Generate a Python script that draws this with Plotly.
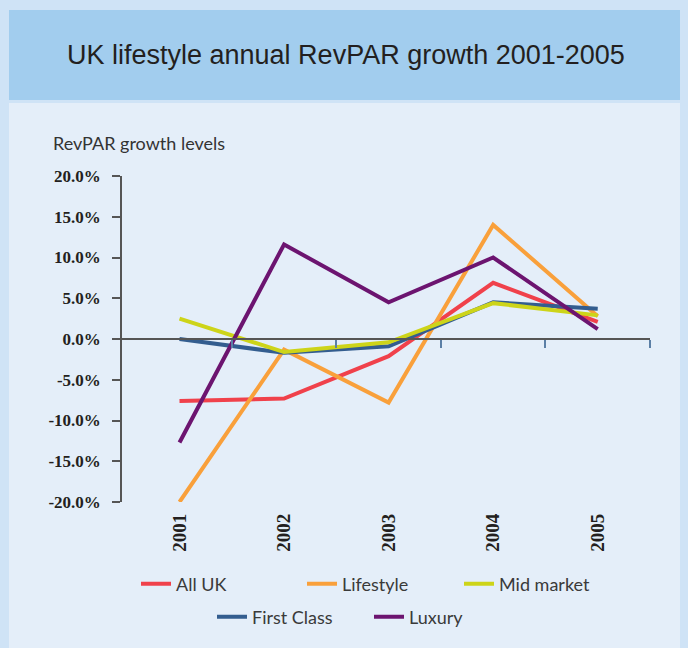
import plotly.graph_objects as go

years = ["2001", "2002", "2003", "2004", "2005"]
series_names = ["All UK", "Lifestyle", "First Class", "Mid market", "Luxury"]
all_uk = [-7.6, -7.3, -2.1, 6.9, 2.1]
lifestyle = [-20.0, -1.3, -7.8, 14.0, 2.8]
first_class = [0.0, -1.7, -0.9, 4.5, 3.7]
mid_market = [2.5, -1.6, -0.4, 4.4, 2.9]
luxury = [-12.7, 11.6, 4.5, 10.0, 1.2]
y_tick_values = [-20, -15, -10, -5, 0, 5, 10, 15, 20]
y_tick_labels = ["-20.0%", "-15.0%", "-10.0%", "-5.0%", "0.0%", "5.0%", "10.0%", "15.0%", "20.0%"]
title_text = "UK lifestyle annual RevPAR growth 2001-2005"
y_title_text = "RevPAR growth levels"

colors = {"All UK": "#f0414b", "Lifestyle": "#f9a03b", "First Class": "#335d8f",
          "Mid market": "#cdd419", "Luxury": "#6c1470"}
values = {"All UK": all_uk, "Lifestyle": lifestyle, "First Class": first_class,
          "Mid market": mid_market, "Luxury": luxury}

W, H = 688, 648
L, R, T, B = 122, 650, 176, 502


def px(x):
    return (x - L) / (R - L)


def py(y):
    return (B - y) / (B - T)


# legend placement (pixel positions of swatch start and row centre)
legend_pos = {"All UK": (136, 584), "Lifestyle": (302, 584), "Mid market": (459, 584),
              "First Class": (212, 617), "Luxury": (369, 617)}
legend_ids = {"All UK": "legend", "Lifestyle": "legend2", "Mid market": "legend3",
              "First Class": "legend4", "Luxury": "legend5"}

xs = list(range(len(years)))
fig = go.Figure()
for name in series_names:
    fig.add_trace(go.Scatter(x=xs, y=values[name], mode="lines", name=name,
                             line=dict(color=colors[name], width=4),
                             legend=legend_ids[name], hoverinfo="skip"))

layout_legends = {}
for name, lid in legend_ids.items():
    lx, ly = legend_pos[name]
    layout_legends[lid] = dict(x=px(lx), y=py(ly), xanchor="left", yanchor="middle",
                               orientation="h", bgcolor="rgba(0,0,0,0)", borderwidth=0,
                               font=dict(family="Lato", size=18, color="#3a3a3a"),
                               itemwidth=30, tracegroupgap=0)

shapes = [
    dict(type="rect", xref="paper", yref="paper", x0=px(9), x1=px(680), y0=py(648), y1=py(103),
         fillcolor="#e4eef9", line=dict(width=0), layer="below"),
    dict(type="rect", xref="paper", yref="paper", x0=px(9), x1=px(680), y0=py(100), y1=py(10),
         fillcolor="#a2cdee", line=dict(width=0), layer="below"),
]

fig.update_layout(
    width=W, height=H,
    margin=dict(l=L, r=W - R, t=T, b=H - B, pad=0),
    paper_bgcolor="#cfe3f6",
    plot_bgcolor="#e4eef9",
    showlegend=True,
    shapes=shapes,
    xaxis=dict(range=[-0.55, 4.5], tickvals=xs, ticktext=years, tickangle=-90,
               showline=False, showgrid=False, zeroline=False, ticks="",
               tickfont=dict(family="Liberation Serif", size=19, color="#231f20", weight="bold"),
               ticklabelstandoff=7),
    xaxis2=dict(range=[-0.55, 4.5], overlaying="x", anchor="free", position=0.5,
                showline=True, linecolor="#555555", linewidth=1.5,
                ticks="outside", ticklen=8, tickcolor="#5b7fa6", tickwidth=1.5,
                tickvals=[0.5, 1.5, 2.5, 3.5, 4.5], showticklabels=False,
                showgrid=False, zeroline=False, side="bottom"),
    yaxis=dict(range=[-20, 20], tickvals=y_tick_values, ticktext=y_tick_labels,
               showline=True, linecolor="#555555", linewidth=1.5,
               ticks="outside", ticklen=8, tickcolor="#555555", tickwidth=1.5,
               showgrid=False, zeroline=False,
               tickfont=dict(family="Liberation Serif", size=17, color="#231f20", weight="bold"),
               ticklabelstandoff=8),
    annotations=[
        dict(text=title_text, xref="paper", yref="paper", x=px(346), y=py(55),
             xanchor="center", yanchor="middle", showarrow=False,
             font=dict(family="Liberation Sans", size=27, color="#231f20")),
        dict(text=y_title_text, xref="paper", yref="paper", x=px(51), y=py(143),
             xanchor="left", yanchor="middle", showarrow=False,
             font=dict(family="Lato", size=18, color="#333333")),
    ],
    **layout_legends,
)
# invisible trace on xaxis2 so the zero-line axis is drawn
fig.add_trace(go.Scatter(x=[0], y=[0], xaxis="x2", mode="markers", marker=dict(opacity=0),
                         showlegend=False, hoverinfo="skip"))

fig.write_html("out.html")
